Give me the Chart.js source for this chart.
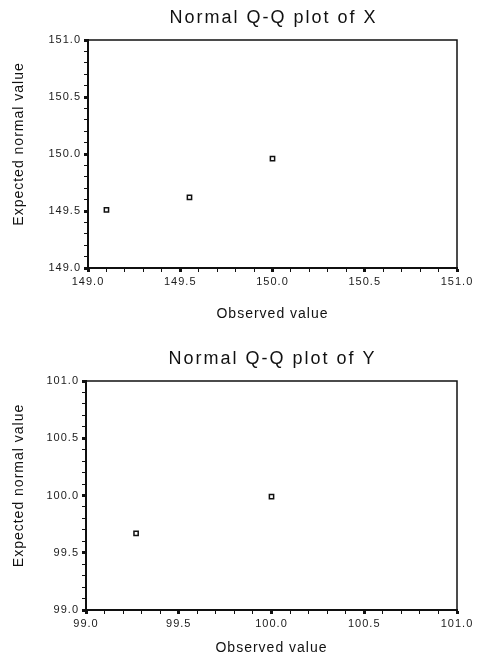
<!DOCTYPE html>
<html><head><meta charset="utf-8">
<script src="https://cdn.jsdelivr.net/npm/chart.js@4"></script>
<style>
html,body{margin:0;padding:0;background:#fff;}
#c1{position:absolute;left:0;top:0;}
#c2{position:absolute;left:0;top:330px;}
</style></head><body>
<canvas id="c1" width="482" height="330"></canvas>
<canvas id="c2" width="482" height="331"></canvas>
<script>
// ---- data ----
const observedX = [149.10, 149.55, 150.00];
const expectedX = [149.51, 149.62, 149.96];
const observedY = [99.27, 100.00];
const expectedY = [99.67, 99.99];
const rangeX = [149, 151];
const rangeY = [99, 101];
const titles = ['Normal Q-Q plot of X', 'Normal Q-Q plot of Y'];
const xAxisTitle = 'Observed value';
const yAxisTitle = 'Expected normal value';

const FONT = '"Liberation Sans", Arial, sans-serif';
const INK = '#111';

const framePlugin = {
  id: 'frame',
  beforeDraw(chart) { chart.ctx.letterSpacing = '1px'; },
  afterDraw(chart, args, opts) {
    const {ctx, chartArea: a} = chart;
    ctx.save();
    ctx.strokeStyle = INK;
    ctx.lineWidth = 1.5;
    ctx.strokeRect(a.left, a.top, a.right - a.left, a.bottom - a.top);
    ctx.fillStyle = INK;
    ctx.textAlign = 'center';
    ctx.textBaseline = 'middle';
    // chart title
    ctx.font = '18px ' + FONT;
    ctx.letterSpacing = '2px';
    ctx.fillText(opts.title, (a.left + a.right) / 2 + 1, opts.titleY);
    // y axis title
    ctx.font = '14px ' + FONT;
    ctx.letterSpacing = '1px';
    ctx.translate(19, (a.top + a.bottom) / 2 - 10);
    ctx.rotate(-Math.PI / 2);
    ctx.fillText(yAxisTitle, 0, 0);
    ctx.restore();
  }
};

function isMajor(v) { return Math.abs(v * 2 - Math.round(v * 2)) < 1e-6; }

function axis(range, fixedSize, isX, titlePad) {
  return {
    type: 'linear',
    min: range[0], max: range[1],
    border: {display: true, color: INK, width: 2},
    grid: {
      drawOnChartArea: false, drawTicks: true, tickLength: 4,
      tickColor: INK,
      tickWidth: c => (c.tick && isMajor(c.tick.value)) ? 3 : 1
    },
    ticks: {
      stepSize: 0.1, autoSkip: false, maxRotation: 0, minRotation: 0,
      padding: 3, color: '#1a1a1a',
      font: {family: FONT, size: 11},
      callback: v => isMajor(v) ? v.toFixed(1) : ''
    },
    title: {
      display: isX, text: xAxisTitle, color: INK,
      font: {family: FONT, size: 14},
      padding: titlePad
    },
    afterFit: s => { if (isX) s.height = fixedSize; else s.width = fixedSize; }
  };
}

function makeChart(id, obs, exp, rx, ry, title, g) {
  new Chart(document.getElementById(id), {
    type: 'scatter',
    data: {
      datasets: [{
        data: obs.map((x, i) => ({x: x, y: exp[i]})),
        showLine: false,
        pointStyle: 'rect', pointRadius: 3, borderWidth: 1.5,
        borderColor: INK, backgroundColor: '#fff'
      }]
    },
    options: {
      responsive: false, animation: false, devicePixelRatio: 1,
      layout: {padding: {top: g.top, right: 482 - g.right, left: 0, bottom: 0}},
      plugins: {
        legend: {display: false}, tooltip: {enabled: false},
        frame: {title: title, titleY: g.titleY}
      },
      scales: {
        x: axis(rx, g.h - g.bottom, true, {top: 0, bottom: g.xTitlePad}),
        y: axis(ry, g.left, false, {top: 0, bottom: 0})
      }
    },
    plugins: [framePlugin]
  });
}

makeChart('c1', observedX, expectedX, rangeX, rangeX, titles[0],
  {h: 330, top: 40, bottom: 268, left: 88, right: 457, titleY: 18, xTitlePad: 7.6});
makeChart('c2', observedY, expectedY, rangeY, rangeY, titles[1],
  {h: 331, top: 51, bottom: 280, left: 86, right: 457, titleY: 29, xTitlePad: 4.6});
</script>
</body></html>
